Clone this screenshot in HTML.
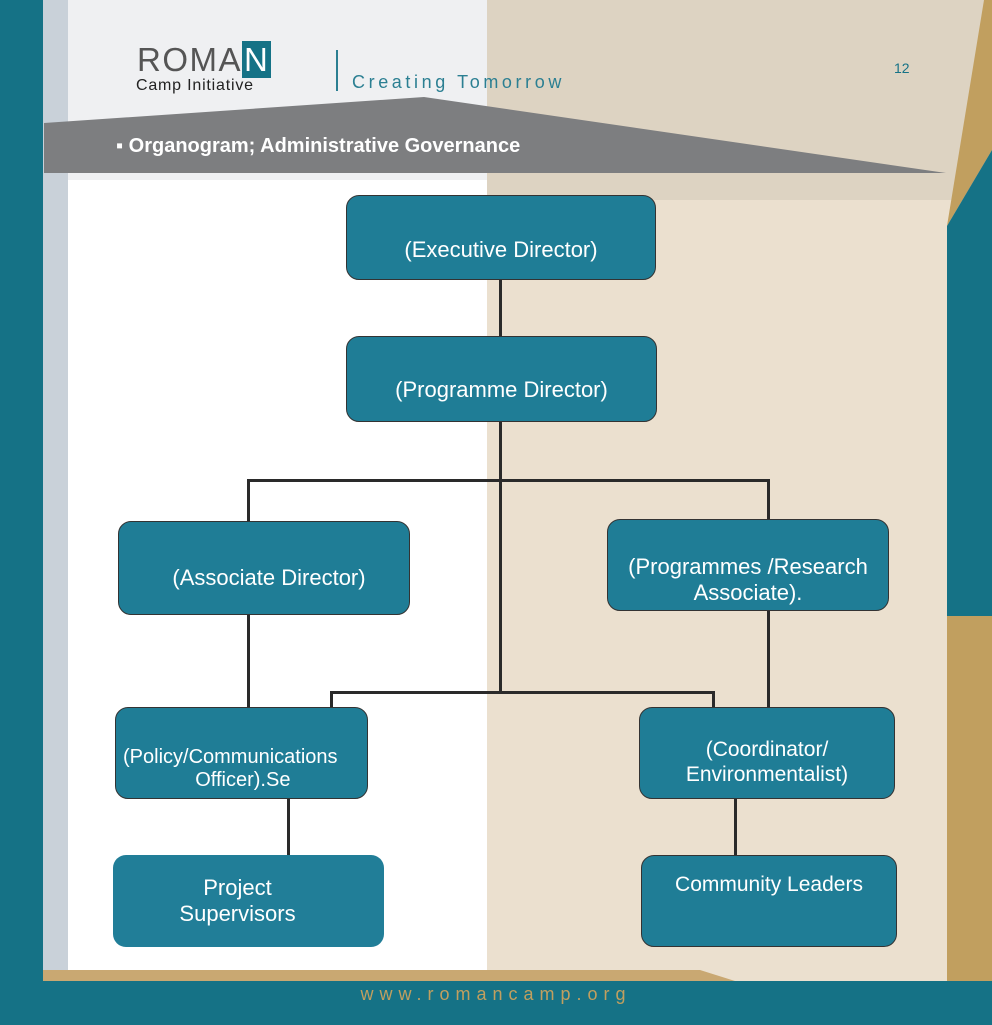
<!DOCTYPE html>
<html><head><meta charset="utf-8"><style>
*{margin:0;padding:0}
body{width:992px;height:1025px;position:relative;overflow:hidden;font-family:"Liberation Sans",sans-serif;background:#fff}
.a{position:absolute}
.box{position:absolute;background:#1f7d96;border:1.5px solid #333;border-radius:13px;color:#fff;font-size:22px;text-align:center;box-sizing:border-box;white-space:nowrap}
.t{position:absolute;left:0;right:0;line-height:26px}
.l{position:absolute;background:#2a2a2a}
</style></head><body>
<div class="a" style="left:43px;top:0;width:444px;height:180px;background:#eff0f2"></div>
<div class="a" style="left:487px;top:0;width:505px;height:1025px;background:#ebe0cf"></div>
<div class="a" style="left:487px;top:0;width:505px;height:200px;background:#ddd3c2"></div>
<div class="a" style="left:0;top:0;width:43px;height:1025px;background:#157286"></div>
<div class="a" style="left:43px;top:0;width:25px;height:975px;background:#c9d1d9"></div>
<svg class="a" style="left:0;top:0" width="992" height="1025">
<polygon points="947,226 984,0 992,0 992,150" fill="#c19f5f"/>
<polygon points="947,226 992,150 992,616 947,616" fill="#157286"/>
<rect x="947" y="616" width="45" height="365" fill="#c19f5f"/>
<polygon points="44,123 424,97 946,173 44,173" fill="#7d7e80"/>
<polygon points="43,970 700,970 735,981 43,981" fill="#c9a872"/>
</svg>
<div class="a" style="left:0;top:981px;width:992px;height:44px;background:#157286"></div>
<div class="a" style="left:0;top:984px;width:992px;text-align:center;color:#c19f5f;font-size:18px;letter-spacing:6px">www.romancamp.org</div>
<div class="a" style="left:137px;top:44px;font-size:33px;color:#555;letter-spacing:1.5px;line-height:32px">ROMA<span style="background:#157286;color:#fff;padding:0 2px">N</span></div>
<div class="a" style="left:136px;top:77px;font-size:16px;color:#222;letter-spacing:0.8px">Camp Initiative</div>
<div class="a" style="left:336px;top:50px;width:2px;height:41px;background:#2b7f92"></div>
<div class="a" style="left:352px;top:72px;font-size:18px;color:#2b7f92;letter-spacing:3.6px">Creating Tomorrow</div>
<div class="a" style="left:894px;top:60px;font-size:14px;color:#157286">12</div>
<div class="a" style="left:116px;top:135px;font-size:20px;color:#fff;font-weight:bold">▪ Organogram; Administrative Governance</div>

<div class="l" style="left:499px;top:279px;width:3px;height:415px"></div>
<div class="l" style="left:247px;top:479px;width:523px;height:3px"></div>
<div class="l" style="left:247px;top:479px;width:3px;height:42px"></div>
<div class="l" style="left:767px;top:479px;width:3px;height:42px"></div>
<div class="l" style="left:247px;top:612px;width:3px;height:96px"></div>
<div class="l" style="left:767px;top:608px;width:3px;height:100px"></div>
<div class="l" style="left:330px;top:691px;width:385px;height:3px"></div>
<div class="l" style="left:330px;top:691px;width:3px;height:17px"></div>
<div class="l" style="left:712px;top:691px;width:3px;height:17px"></div>
<div class="l" style="left:287px;top:797px;width:3px;height:60px"></div>
<div class="l" style="left:734px;top:797px;width:3px;height:60px"></div>

<div class="box" style="left:346px;top:195px;width:310px;height:85px"><div class="t" style="top:41px">(Executive Director)</div></div>
<div class="box" style="left:346px;top:336px;width:311px;height:86px"><div class="t" style="top:40px">(Programme Director)</div></div>
<div class="box" style="left:118px;top:521px;width:292px;height:94px"><div class="t" style="top:43px;left:10px">(Associate Director)</div></div>
<div class="box" style="left:607px;top:519px;width:282px;height:92px"><div class="t" style="top:34px">(Programmes /Research<br>Associate).</div></div>
<div class="box" style="left:115px;top:707px;width:253px;height:92px;font-size:20px;overflow:hidden"><div class="t" style="top:38px;line-height:23px;text-align:left;left:7px">(Policy/Communications<br>&nbsp;&nbsp;&nbsp;&nbsp;&nbsp;&nbsp;&nbsp;&nbsp;&nbsp;&nbsp;&nbsp;&nbsp;&nbsp;Officer).Se</div></div>
<div class="box" style="left:639px;top:707px;width:256px;height:92px;font-size:21px"><div class="t" style="top:29px;line-height:25px">(Coordinator/<br>Environmentalist)</div></div>
<div class="box" style="left:113px;top:855px;width:271px;height:92px;border:none;background:#217e98"><div class="t" style="top:20px;right:22px">Project<br>Supervisors</div></div>
<div class="box" style="left:641px;top:855px;width:256px;height:92px;font-size:21px"><div class="t" style="top:16px">Community Leaders</div></div>
</body></html>
